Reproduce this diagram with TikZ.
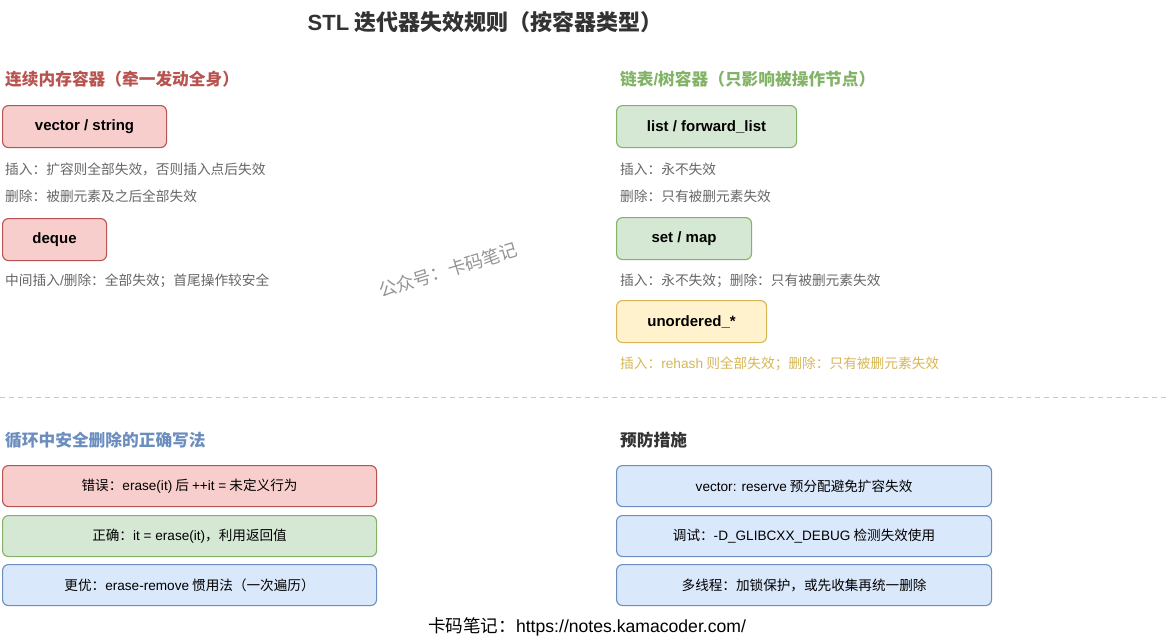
\documentclass[tikz,border=0pt]{standalone}
\usepackage{fontspec}
\setmainfont{Noto Sans CJK SC}
\newfontfamily\lat{Liberation Sans}
\newcommand\en[1]{{\lat #1}}
\usetikzlibrary{positioning}
\definecolor{redline}{HTML}{B85450}
\definecolor{redfill}{HTML}{F8CECC}
\definecolor{greenline}{HTML}{82B366}
\definecolor{greenfill}{HTML}{D5E8D4}
\definecolor{goldline}{HTML}{D6B656}
\definecolor{goldfill}{HTML}{FFF2CC}
\definecolor{blueline}{HTML}{6C8EBF}
\definecolor{bluefill}{HTML}{DAE8FC}
\definecolor{note}{HTML}{666666}
\definecolor{ink}{HTML}{333333}

\tikzset{
  kind/.style={draw,rounded corners=6pt,line width=1.1pt,minimum height=42pt,
    anchor=north west,font=\lat\bfseries\fontsize{15}{18}\selectfont},
  rule/.style={draw,rounded corners=6pt,line width=1.1pt,minimum width=374pt,
    minimum height=41pt,anchor=north west,font=\fontsize{13.6}{16}\selectfont},
  tip/.style={anchor=west,inner sep=0pt,text=note,font=\fontsize{13.7}{16}\selectfont},
  head/.style={anchor=west,inner sep=0pt,font=\bfseries\fontsize{16.7}{19}\selectfont},
}

\begin{document}
\begin{tikzpicture}[x=1pt,y=-1pt]
  \useasboundingbox (0,0) rectangle (1175,640);

  \node[text=ink,font=\bfseries\fontsize{22}{25}\selectfont] (title)
    at (485,22) {\en{STL} 迭代器失效规则（按容器类型）};

  % contiguous containers
  \node[head,text=redline] (seqhead) at (5,79) {连续内存容器（牵一发动全身）};
  \node[kind,fill=redfill,draw=redline,minimum width=164pt] (vec)
    at (2,105) {vector / string};
  \node[tip] (vecins) at (5,169) {插入：扩容则全部失效，否则插入点后失效};
  \node[tip] (vecdel) at (5,196) {删除：被删元素及之后全部失效};
  \node[kind,fill=redfill,draw=redline,minimum width=104pt] (deq)
    at (2,218) {deque};
  \node[tip] (deqnote) at (5,281) {中间插入\en{/}删除：全部失效；首尾操作较安全};

  % node based containers
  \node[head,text=greenline] (nodehead) at (620,79) {链表\en{/}树容器（只影响被操作节点）};
  \node[kind,fill=greenfill,draw=greenline,minimum width=180pt] (lst)
    at (616,105) {list / forward\_list};
  \node[tip] (lstins) at (620,169) {插入：永不失效};
  \node[tip] (lstdel) at (620,196) {删除：只有被删元素失效};
  \node[kind,fill=greenfill,draw=greenline,minimum width=135pt] (setmap)
    at (616,217) {set / map};
  \node[tip] (setnote) at (620,281) {插入：永不失效；删除：只有被删元素失效};
  \node[kind,fill=goldfill,draw=goldline,minimum width=150pt] (unord)
    at (616,300) {unordered\_*};
  \node[tip,text=goldline] (unordnote) at (620,364)
    {插入：\en{rehash} 则全部失效；删除：只有被删元素失效};

  \node[rotate=17,text=black!42,font=\fontsize{18}{21}\selectfont] (mark)
    at (448,270) {公众号：卡码笔记};

  \coordinate (cutl) at (0,397);
  \coordinate (cutr) at (1167,397);
  \draw[black!22,dashed,dash pattern=on 5pt off 4pt] (cutl) -- (cutr);

  % erase in loop
  \node[head,text=blueline] (loophead) at (5,440) {循环中安全删除的正确写法};
  \node[rule,fill=redfill,draw=redline] (bad) at (2,465)
    {错误：\en{erase(it)} 后 \en{++it =} 未定义行为};
  \node[rule,fill=greenfill,draw=greenline] (good) at (2,515)
    {正确：\en{it = erase(it)}，利用返回值};
  \node[rule,fill=bluefill,draw=blueline] (best) at (2,564)
    {更优：\en{erase-remove} 惯用法（一次遍历）};

  % prevention
  \node[head,text=ink] (prevhead) at (620,440) {预防措施};
  \node[rule,fill=bluefill,draw=blueline,minimum width=375pt] (reserve) at (616,465)
    {\en{vector: reserve} 预分配避免扩容失效};
  \node[rule,fill=bluefill,draw=blueline,minimum width=375pt] (debug) at (616,515)
    {调试：\en{-D\_GLIBCXX\_DEBUG} 检测失效使用};
  \node[rule,fill=bluefill,draw=blueline,minimum width=375pt] (lock) at (616,564)
    {多线程：加锁保护，或先收集再统一删除};

  \node[font=\fontsize{17.6}{20}\selectfont] (foot) at (587,627)
    {卡码笔记：\en{https://notes.kamacoder.com/}};
\end{tikzpicture}
\end{document}
